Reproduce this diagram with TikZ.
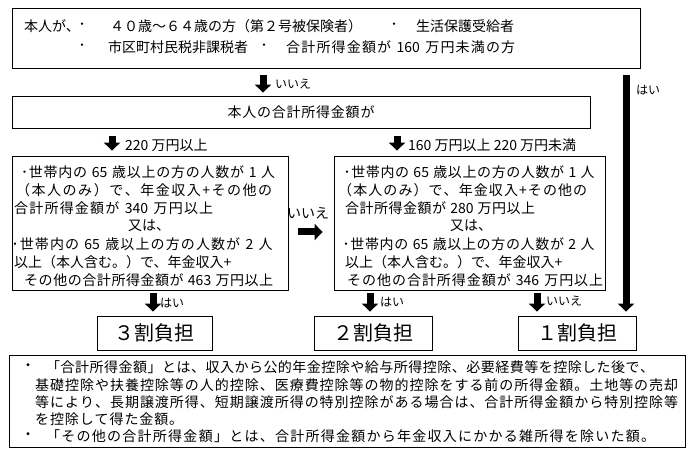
\documentclass[tikz,border=0pt]{standalone}
\usepackage{fontspec}
\newfontfamily\jp{Noto Sans CJK JP}
\usetikzlibrary{arrows.meta}
\makeatletter
\newcommand{\spreadto}[2]{\makebox[#1pt][s]{\@tfor\spr@tok:=#2\do{\spr@tok\hfil}\unskip}}
\makeatother
\begin{document}
\begin{tikzpicture}[x=1pt,y=-1pt,
  box/.style={draw=black,line width=0.8pt,inner sep=0pt},
  txt/.style={font=\jp\fontsize{14}{16}\selectfont,inner sep=0pt,anchor=west},
  dot/.style={font=\jp\fontsize{14}{16}\selectfont,inner sep=0pt},
  lab/.style={font=\jp\fontsize{12}{14}\selectfont,inner sep=0pt,anchor=west},
  big/.style={font=\jp\fontsize{20}{24}\selectfont},
  fat/.style={line width=7pt,-{Triangle[length=8pt,width=16pt]}}]
\useasboundingbox (0,0) rectangle (690,454);
% ---------- boxes ----------
\node[box,minimum width=628pt,minimum height=60pt] (q0) at (326,38) {};
\node[box,txt,anchor=center,minimum width=578pt,minimum height=32pt] (q1) at (301,112) {\spreadto{147}{本人の合計所得金額が}};
\node[box,minimum width=276pt,minimum height=134pt] (lb) at (150,223) {};
\node[box,minimum width=271pt,minimum height=134pt] (rb) at (469.5,223) {};
\node[box,big,minimum width=115pt,minimum height=34pt] (r3) at (154.5,333) {３割負担};
\node[box,big,minimum width=118pt,minimum height=34pt] (r2) at (373,333) {２割負担};
\node[box,big,minimum width=118pt,minimum height=34pt] (r1) at (577,333) {１割負担};
\node[box,minimum width=676pt,minimum height=92pt] (nb) at (347,401) {};
% ---------- top box text ----------
\node[txt] (t1a) at (24,26) {本人が、};
\node[dot] (t1b) at (82,26) {･};
\node[txt] (t1c) at (110,26) {４０歳〜６４歳の方（第２号被保険者）};
\node[dot] (t1d) at (394,26) {･};
\node[txt] (t1e) at (416,26) {生活保護受給者};
\node[dot] (t2a) at (82,47) {･};
\node[txt] (t2b) at (108,47) {市区町村民税非課税者};
\node[dot] (t2c) at (264,47) {･};
\node[txt] (t2d) at (286,47) {\spreadto{229}{合計所得金額が~{160}~万円未満の方}};
% ---------- left box text ----------
\node[txt] (l1) at (21,172) {\spreadto{254}{･世帯内の~{65}~歳以上の方の人数が~1~人}};
\node[txt] (l2) at (16,190) {\spreadto{256}{（本人のみ）で、年金収入+その他の}};
\node[txt] (l3) at (14,208) {\spreadto{199}{合計所得金額が~{340}~万円以上}};
\node[txt] (l4) at (128,226) {又は、};
\node[txt] (l5) at (11.5,244) {\spreadto{261}{･世帯内の~{65}~歳以上の方の人数が~2~人}};
\node[txt] (l6) at (14,262) {以上（本人含む。）で、年金収入+};
\node[txt] (l7) at (24,280) {\spreadto{249}{その他の合計所得金額が~{463}~万円以上}};
% ---------- right box text ----------
\node[txt] (m1) at (343.5,172) {\spreadto{251}{･世帯内の~{65}~歳以上の方の人数が~1~人}};
\node[txt] (m2) at (338,190) {\spreadto{249}{（本人のみ）で、年金収入+その他の}};
\node[txt] (m3) at (345,208) {\spreadto{190}{合計所得金額が~{280}~万円以上}};
\node[txt] (m4) at (450,226) {又は、};
\node[txt] (m5) at (342.5,244) {\spreadto{252}{･世帯内の~{65}~歳以上の方の人数が~2~人}};
\node[txt] (m6) at (345,262) {以上（本人含む。）で、年金収入+};
\node[txt] (m7) at (347,280) {\spreadto{256}{その他の合計所得金額が~{346}~万円以上}};
% ---------- notes text ----------
\node[dot] (n1a) at (28,367) {・};
\node[txt] (n1b) at (46,367) {\spreadto{608}{「合計所得金額」とは、収入から公的年金控除や給与所得控除、必要経費等を控除した後で、}};
\node[txt] (n2) at (35,385) {\spreadto{643}{基礎控除や扶養控除等の人的控除、医療費控除等の物的控除をする前の所得金額。土地等の売却}};
\node[txt] (n3) at (35,402) {\spreadto{643}{等により、長期譲渡所得、短期譲渡所得の特別控除がある場合は、合計所得金額から特別控除等}};
\node[txt] (n4) at (35,419) {\spreadto{148}{を控除して得た金額。}};
\node[dot] (n5a) at (28,436) {・};
\node[txt] (n5b) at (46,436) {\spreadto{609}{「その他の合計所得金額」とは、合計所得金額から年金収入にかかる雑所得を除いた額。}};
% ---------- connectors ----------
\coordinate (xa) at (263,0);
\coordinate (xb) at (626,0);
\coordinate (xc) at (112,0);
\coordinate (xd) at (397,0);
\coordinate (xe) at (153,0);
\coordinate (xf) at (370,0);
\coordinate (xg) at (537,0);
\coordinate (ya) at (0,232);
\draw[fat,shorten <=7pt,shorten >=3pt] (q0.south -| xa) -- (q1.north -| xa);
\draw[fat,shorten <=7pt,shorten >=4pt] (q0.south -| xb) -- (r1.north -| xb);
\draw[fat,shorten <=8pt,shorten >=5pt] (q1.south -| xc) -- (lb.north -| xc);
\draw[fat,shorten <=8pt,shorten >=5pt] (q1.south -| xd) -- (rb.north -| xd);
\draw[fat,shorten <=10pt,shorten >=11pt] (lb.east |- ya) -- (rb.west |- ya);
\draw[fat,shorten <=3pt,shorten >=4pt] (lb.south -| xe) -- (r3.north -| xe);
\draw[fat,shorten <=3pt,shorten >=4pt] (rb.south -| xf) -- (r2.north -| xf);
\draw[fat,shorten <=3pt,shorten >=4pt] (rb.south -| xg) -- (r1.north -| xg);
% ---------- connector labels ----------
\node[lab] (la) at (275,84) {いいえ};
\node[lab] (lb2) at (636,90) {はい};
\node[txt] (lc) at (125,145) {220 万円以上};
\node[txt] (ld) at (408,145) {160 万円以上 220 万円未満};
\node[txt] (le) at (287,213) {いいえ};
\node[lab] (lf) at (160,303) {はい};
\node[lab] (lg) at (380,302) {はい};
\node[lab] (lh) at (546,301) {いいえ};
\end{tikzpicture}
\end{document}
